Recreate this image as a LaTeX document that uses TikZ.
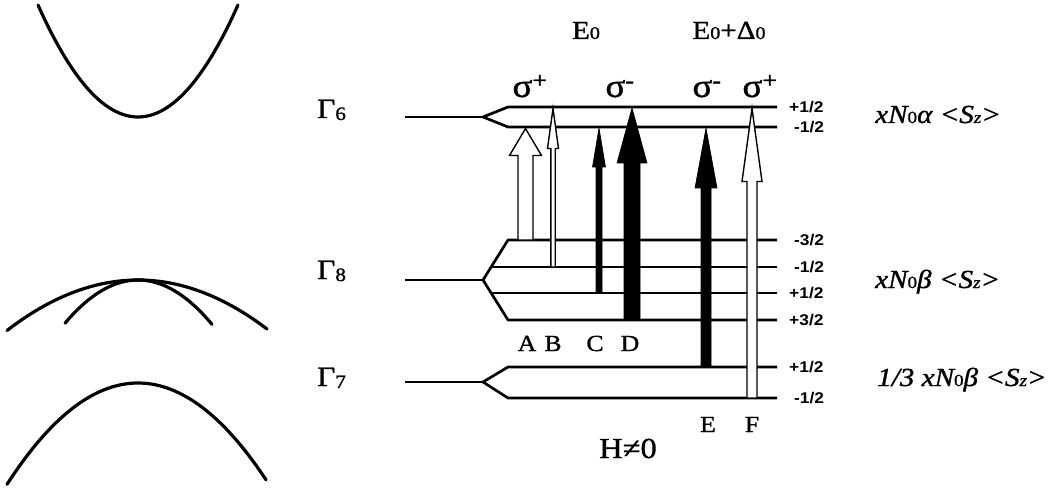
\documentclass[tikz,border=0pt]{standalone}
\usepackage{fontspec}
\setmainfont{Liberation Serif}[FakeStretch=1.12,FakeBold=1.2]
\newfontfamily\lvlfont{Liberation Sans}[FakeStretch=1.12]
\newcommand\fsz[1]{\fontsize{#1}{#1}\selectfont}
\newcommand\subd[3]{\raisebox{-#2}{\fsz{#1}#3}}
\tikzset{
  band/.style={line width=3.2pt, line cap=round},
  lvl/.style={line width=2.7pt, line join=round},
  openarr/.style={draw=black, fill=white, line width=1.4pt, line join=miter},
  fullarr/.style={draw=black, fill=black, line width=0.6pt, line join=miter},
  lvllab/.style={anchor=west, inner sep=0pt, font=\lvlfont\bfseries\fsz{15.5}},
  gam/.style={anchor=base west, inner sep=0pt, font=\fsz{28}},
  sig/.style={anchor=base, inner sep=0pt, font=\fsz{33}},
  top/.style={anchor=base, inner sep=0pt, font=\fsz{26}},
  letter/.style={anchor=base, inner sep=0pt, font=\fsz{23}},
  rlab/.style={anchor=base west, inner sep=0pt, font=\itshape\fsz{26}}
}
% x, ybottom, ytip, half shaft, half head, head length, style
\newcommand\transarrow[7]{%
  \path[#7] (#1-#4,#2) -- (#1-#4,#3+#6) -- (#1-#5,#3+#6) -- (#1,#3)
    -- (#1+#5,#3+#6) -- (#1+#4,#3+#6) -- (#1+#4,#2) -- cycle;}
\begin{document}
\begin{tikzpicture}[x=1pt,y=-1pt]
\useasboundingbox (0,0) rectangle (1057,489);
% ---- band curves
\draw[band] plot[domain=38:238,samples=60] (\x,{117-0.0112*(\x-138)*(\x-138)});
\draw[band] plot[domain=7:267,samples=60] (\x,{280+0.00295*(\x-138)*(\x-138)});
\draw[band] plot[domain=65:212,samples=40] (\x,{280+0.0081*(\x-138)*(\x-138)});
\draw[band] plot[domain=7:266,samples=60] (\x,{383+0.0059*(\x-138)*(\x-138)});
% ---- Gamma 6 levels
\coordinate (g6L) at (405,117); \coordinate (g6F) at (483,117);
\coordinate (g6a) at (508,107); \coordinate (g6ae) at (777,107);
\coordinate (g6b) at (508,127); \coordinate (g6be) at (777,127);
\draw[lvl] (g6L) -- (g6F);
\draw[lvl] (g6F) -- (g6a) -- (g6ae);
\draw[lvl] (g6F) -- (g6b) -- (g6be);
% ---- Gamma 8 levels
\coordinate (g8L) at (405,280); \coordinate (g8F) at (483,280);
\coordinate (g8a) at (508,240); \coordinate (g8ae) at (777,240);
\coordinate (g8b) at (491,267); \coordinate (g8be) at (777,267);
\coordinate (g8c) at (491,293); \coordinate (g8ce) at (777,293);
\coordinate (g8d) at (508,320); \coordinate (g8de) at (777,320);
\draw[lvl] (g8L) -- (g8F);
\draw[lvl] (g8F) -- (g8a) -- (g8ae);
\draw[lvl] (g8F) -- (g8d) -- (g8de);
\draw[lvl] (g8b) -- (g8be);
\draw[lvl] (g8c) -- (g8ce);
% ---- Gamma 7 levels
\coordinate (g7L) at (405,382); \coordinate (g7F) at (483,382);
\coordinate (g7a) at (508,367); \coordinate (g7ae) at (777,367);
\coordinate (g7b) at (508,398); \coordinate (g7be) at (777,398);
\draw[lvl] (g7L) -- (g7F);
\draw[lvl] (g7F) -- (g7a) -- (g7ae);
\draw[lvl] (g7F) -- (g7b) -- (g7be);
% ---- transition arrows
\transarrow{525.5}{240}{128.5}{7.5}{16}{27}{openarr}
\transarrow{553}{267}{108.5}{2.2}{5.5}{40}{openarr}
\transarrow{599}{293}{128}{3}{6.5}{39}{fullarr}
\transarrow{632}{320}{108}{8}{15}{55}{fullarr}
\transarrow{706}{367}{128}{5}{11}{60}{fullarr}
\transarrow{752}{398}{108.5}{5}{10}{73}{openarr}
% ---- left labels
\node[gam] (G6) at (317,118) {Γ\subd{19}{2pt}{6}};
\node[gam] (G8) at (317,279) {Γ\subd{19}{2pt}{8}};
\node[gam] (G7) at (317,386) {Γ\subd{19}{2pt}{7}};
% ---- top labels
\node[top] (E0) at (586,39) {E\subd{18}{0pt}{0}};
\node[top] (E0D) at (729,39) {E\subd{18}{0pt}{0}+Δ\subd{18}{0pt}{0}};
\node[sig] (s1) at (530,97) {σ\textsuperscript{+}};
\node[sig] (s2) at (620,97) {σ\textsuperscript{-}};
\node[sig] (s3) at (707,97) {σ\textsuperscript{-}};
\node[sig] (s4) at (760,97) {σ\textsuperscript{+}};
% ---- transition letters
\node[letter] (lA) at (527,351) {A};
\node[letter] (lB) at (553,351) {B};
\node[letter] (lC) at (595,351) {C};
\node[letter] (lD) at (630,351) {D};
\node[letter] (lE) at (708,432) {E};
\node[letter] (lF) at (752,432) {F};
\node[anchor=base, inner sep=0pt, font=\fsz{29}] (H) at (628,458) {H≠0};
% ---- level labels
\node[lvllab] (m1) at (789,107) {+1/2};
\node[lvllab] (m2) at (794,127) {-1/2};
\node[lvllab] (m3) at (794,240) {-3/2};
\node[lvllab] (m4) at (794,267) {-1/2};
\node[lvllab] (m5) at (789,293) {+1/2};
\node[lvllab] (m6) at (789,320) {+3/2};
\node[lvllab] (m7) at (789,367) {+1/2};
\node[lvllab] (m8) at (794,398) {-1/2};
% ---- right labels
\node[rlab] (R6) at (875,123) {xN\subd{17}{0pt}{\upshape 0}α <S\subd{17}{0pt}{z}>};
\node[rlab] (R8) at (875,288) {xN\subd{17}{0pt}{\upshape 0}β <S\subd{17}{0pt}{z}>};
\node[rlab] (R7) at (877,386) {1/3 xN\subd{17}{0pt}{\upshape 0}β <S\subd{17}{0pt}{z}>};
\end{tikzpicture}
\end{document}
